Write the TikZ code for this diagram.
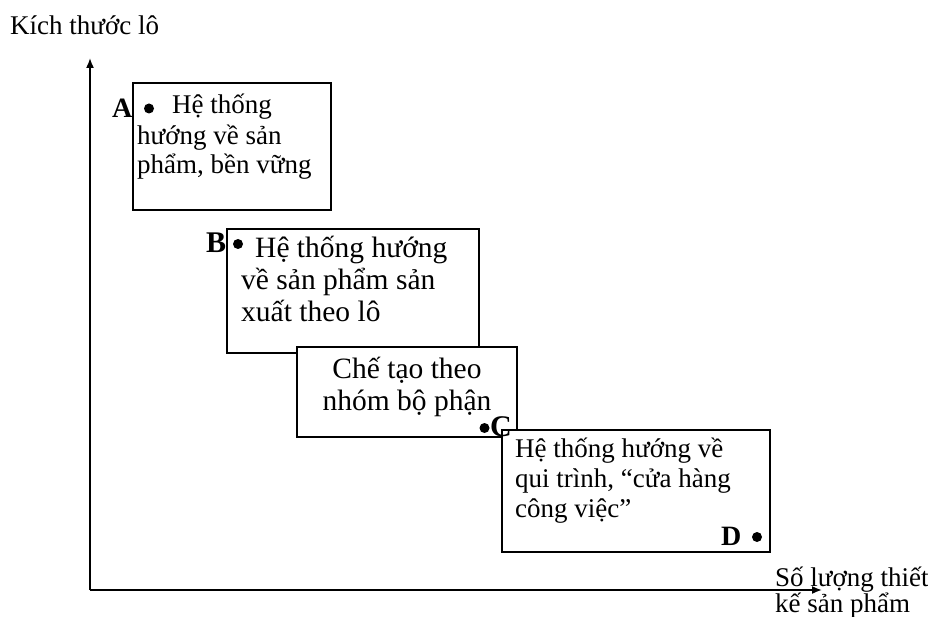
\documentclass[tikz,border=0pt]{standalone}
\usepackage{fontspec}
\setmainfont{Liberation Serif}
\usetikzlibrary{arrows.meta}
\begin{document}
\begin{tikzpicture}[x=1pt,y=-1pt,
  box/.style={draw=black,line width=1.8pt,fill=white,rectangle,inner sep=0pt},
  axis/.style={draw=black,line width=1.6pt,-{Latex[length=10pt,width=8pt]}},
  txt/.style={anchor=base west,inner sep=0pt,font=\fontsize{27}{30}\selectfont},
  bigtxt/.style={anchor=base west,inner sep=0pt,font=\fontsize{29.5}{32}\selectfont},
  lbl/.style={anchor=base west,inner sep=0pt,font=\fontsize{28}{30}\selectfont\bfseries},
  biglbl/.style={anchor=base west,inner sep=0pt,font=\fontsize{30}{32}\selectfont\bfseries},
  dot/.style={circle,fill=black,inner sep=0pt,minimum size=10pt}]
\useasboundingbox (0,0) rectangle (928,617);
\fill[white] (0,0) rectangle (928,617);
% axes
\coordinate (o) at (90,590);
\coordinate (ytip) at (90,58);
\coordinate (xtip) at (822,590);
\draw[axis] (o) -- (ytip);
\draw[axis] (o) -- (xtip);
% boxes
\node[box,minimum width=198pt,minimum height=127pt] (boxA) at (232,146.5) {};
\node[box,minimum width=252pt,minimum height=124pt] (boxB) at (353,291) {};
\node[box,minimum width=220pt,minimum height=90pt] (boxC) at (407,392) {};
\node[box,minimum width=268pt,minimum height=122pt] (boxD) at (636,491) {};
% box A text
\node[lbl] (lA) at (112,118) {A};
\node[dot] (dA) at (149,108.5) {};
\node[txt] (a1) at (172,114) {Hệ thống};
\node[txt] (a2) at (137,145) {hướng về sản};
\node[txt] (a3) at (137,174) {phẩm, bền vững};
% box B text
\node[biglbl] (lB) at (206,253) {B};
\node[dot] (dB) at (238,244) {};
\node[bigtxt] (b1) at (255,258) {Hệ thống hướng};
\node[bigtxt] (b2) at (241,290) {về sản phẩm sản};
\node[bigtxt] (b3) at (241,321) {xuất theo lô};
% box C text
\node[bigtxt,anchor=base] (c1) at (407,378) {Chế tạo theo};
\node[bigtxt,anchor=base] (c2) at (407,410) {nhóm bộ phận};
\node[dot] (dC) at (484.5,428) {};
\node[biglbl] (lC) at (490,436) {C};
% box D text
\node[txt] (d1) at (515,457) {Hệ thống hướng về};
\node[txt] (d2) at (515,487) {qui trình, “cửa hàng};
\node[txt] (d3) at (515,517) {công việc”};
\node[lbl] (lD) at (721,545) {D};
\node[dot] (dD) at (757,537) {};
% axis labels
\node[txt] (ylab) at (10,35) {Kích thước lô};
\node[txt] (xlab1) at (775,586) {Số lượng thiết};
\node[txt] (xlab2) at (775,612) {kế sản phẩm};
\end{tikzpicture}
\end{document}
